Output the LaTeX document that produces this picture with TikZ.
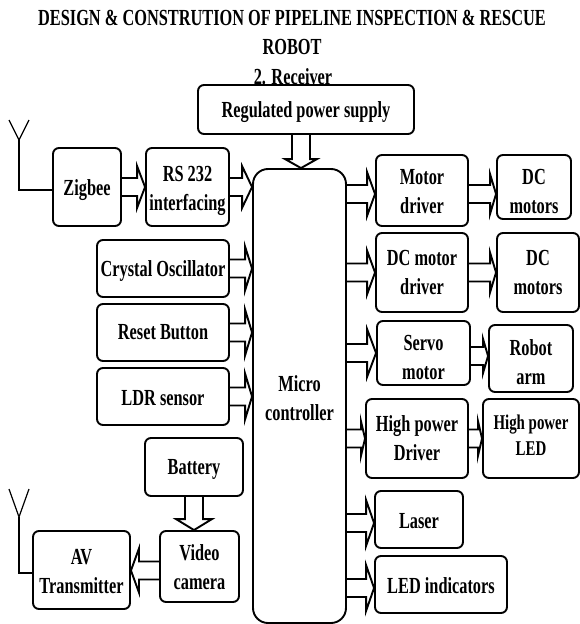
\documentclass[tikz,border=0pt]{standalone}
\usepackage{fontspec}
\setmainfont[FakeStretch=0.71]{Liberation Serif}
\usetikzlibrary{
    calc
}
\newcommand{\textdrop}[1]{\rule{0pt}{\dimexpr 15.7pt+#1pt*2\relax}}
\tikzstyle{blockbox} = [
    draw=black,
    line width=1.9pt,
    rounded corners=6pt,
    align=center,
    inner sep=0pt,
    font=\fontsize{23}{29}\selectfont\bfseries
]
\tikzstyle{heading} = [
    inner sep=0pt,
    font=\fontsize{23}{26}\selectfont\bfseries
]
\tikzstyle{aerial} = [
    draw=black,
    line width=1.2pt
]
\tikzset{
    blockarrow/.style 2 args={
        line width=1.9pt,
        to path={
            ($(\tikztostart)!9pt!90:(\tikztotarget)$)
            -- ($(\tikztotarget)!#2!(\tikztostart)!9pt!-90:(\tikztostart)$)
            -- ($(\tikztotarget)!#2!(\tikztostart)!#1!-90:(\tikztostart)$)
            -- (\tikztotarget)
            -- ($(\tikztotarget)!#2!(\tikztostart)!#1!90:(\tikztostart)$)
            -- ($(\tikztotarget)!#2!(\tikztostart)!9pt!90:(\tikztostart)$)
            -- ($(\tikztostart)!9pt!-90:(\tikztotarget)$)
        }
    }
}

\begin{document}
\begin{tikzpicture}[x=1pt, y=-1pt]
        \useasboundingbox (0,0) rectangle (580,624);

        % Headings
        \node[heading] (title) at (292,18) {DESIGN \& CONSTRUTION OF PIPELINE INSPECTION \& RESCUE};
        \node[heading] (robot) at (292,47) {ROBOT};
        \node[heading] (receiver) at (293,77) {2. Receiver};

        % Middle
        \node[blockbox, rounded corners=15pt, minimum width=93pt, minimum height=454pt] (micro) at (299.5,396) {\textdrop{2}Micro\\controller};
        \node[blockbox, minimum width=216pt, minimum height=49pt] (power) at (306,109.5) {\textdrop{3}Regulated power supply};

        % Left side
        \node[blockbox, minimum width=68pt, minimum height=78pt] (zigbee) at (87,187) {\textdrop{3.5}Zigbee};
        \node[blockbox, minimum width=83pt, minimum height=78pt] (rs) at (187.5,187) {\textdrop{3.5}RS 232\\interfacing};
        \node[blockbox, minimum width=132pt, minimum height=57pt] (crystal) at (163,268.5) {\textdrop{3}Crystal Oscillator};
        \node[blockbox, minimum width=132pt, minimum height=57pt] (reset) at (163,332.5) {Reset Button};
        \node[blockbox, minimum width=132pt, minimum height=57pt] (ldr) at (163,396.5) {\textdrop{1}LDR sensor};
        \node[blockbox, minimum width=98pt, minimum height=58pt] (battery) at (194,467) {\textdrop{2}Battery};
        \node[blockbox, minimum width=79pt, minimum height=71pt] (camera) at (199.5,566.5) {\textdrop{1}Video\\camera};
        \node[blockbox, minimum width=97pt, minimum height=78pt] (av) at (81.5,570) {\textdrop{1}AV\\Transmitter};

        % Right side
        \node[blockbox, minimum width=92pt, minimum height=71pt] (motor) at (422,190.5) {\textdrop{1}Motor\\driver};
        \node[blockbox, minimum width=74pt, minimum height=64pt] (dcone) at (534,187) {\textdrop{4}DC\\motors};
        \node[blockbox, minimum width=92pt, minimum height=79pt] (dcdriver) at (422,272.5) {DC motor\\driver};
        \node[blockbox, minimum width=82pt, minimum height=79pt] (dctwo) at (538,272.5) {DC\\motors};
        \node[blockbox, minimum width=93pt, minimum height=64pt] (servo) at (423.5,353) {\textdrop{4.5}Servo\\motor};
        \node[blockbox, minimum width=84pt, minimum height=67pt] (arm) at (531,358.5) {\textdrop{3.5}Robot\\arm};
        \node[blockbox, minimum width=102pt, minimum height=79pt] (hpdriver) at (417,438.5) {High power\\Driver};
        \node[blockbox, font=\fontsize{21}{26}\selectfont\bfseries, minimum width=96pt, minimum height=79pt] (hpled) at (531,438.5) {High power\\LED\rule[-6pt]{0pt}{0pt}};
        \node[blockbox, minimum width=88pt, minimum height=57pt] (laser) at (419,519.5) {\textdrop{1}Laser};
        \node[blockbox, minimum width=132pt, minimum height=57pt] (indicators) at (441,584.5) {\textdrop{1}LED indicators};

        % Arrows into controller
        \draw[blockarrow={16pt}{9pt}] (power.south -| 301,0) to (micro.north -| 301,0);
        \draw[blockarrow={21pt}{8pt}] (zigbee.east) to (rs.west);
        \draw[blockarrow={21pt}{10pt}] (rs.east) to (rs.east -| micro.west);
        \draw[blockarrow={22pt}{7pt}] (crystal.east) to (crystal.east -| micro.west);
        \draw[blockarrow={23pt}{7pt}] (reset.east) to (reset.east -| micro.west);
        \draw[blockarrow={23pt}{7pt}] (ldr.east) to (ldr.east -| micro.west);

        % Camera
        \draw[blockarrow={18pt}{11pt}] (battery.south) to (battery.south |- camera.north);
        \draw[blockarrow={22pt}{8pt}] ([yshift=-4pt]camera.west) to ([yshift=-0.5pt]av.east);

        % Arrows out of controller
        \draw[blockarrow={22pt}{8pt}] ([yshift=-3.5pt]motor.west -| micro.east) to ([yshift=-3.5pt]motor.west);
        \draw[blockarrow={20pt}{6pt}] ([yshift=-3.5pt]motor.east) to ([yshift=-3.5pt]motor.east -| dcone.west);
        \draw[blockarrow={22pt}{8pt}] (dcdriver.west -| micro.east) to (dcdriver.west);
        \draw[blockarrow={20pt}{6pt}] (dcdriver.east) to (dctwo.west);
        \draw[blockarrow={24pt}{9pt}] (servo.west -| micro.east) to (servo.west);
        \draw[blockarrow={17pt}{5pt}] ([yshift=-3pt]servo.east) to ([yshift=-3pt]servo.east -| arm.west);
        \draw[blockarrow={17pt}{4pt}] (hpdriver.west -| micro.east) to (hpdriver.west);
        \draw[blockarrow={17pt}{4pt}] (hpdriver.east) to (hpled.west);
        \draw[blockarrow={23pt}{8pt}] ([yshift=-3.5pt]laser.west -| micro.east) to ([yshift=-3.5pt]laser.west);
        \draw[blockarrow={23pt}{8pt}] ([yshift=-3.5pt]indicators.west -| micro.east) to ([yshift=-3.5pt]indicators.west);

        % Aerials
        \coordinate (upper) at (19,140);
        \coordinate (lower) at (19,517);
        \draw[aerial] (9,120) -- (upper) -- (29,120);
        \draw[aerial] (upper) |- ([yshift=-3pt]zigbee.west);
        \draw[aerial] (9,489) -- (lower) -- (29,489);
        \draw[aerial] (lower) |- ([yshift=-3pt]av.west);
    \end{tikzpicture}
\end{document}
